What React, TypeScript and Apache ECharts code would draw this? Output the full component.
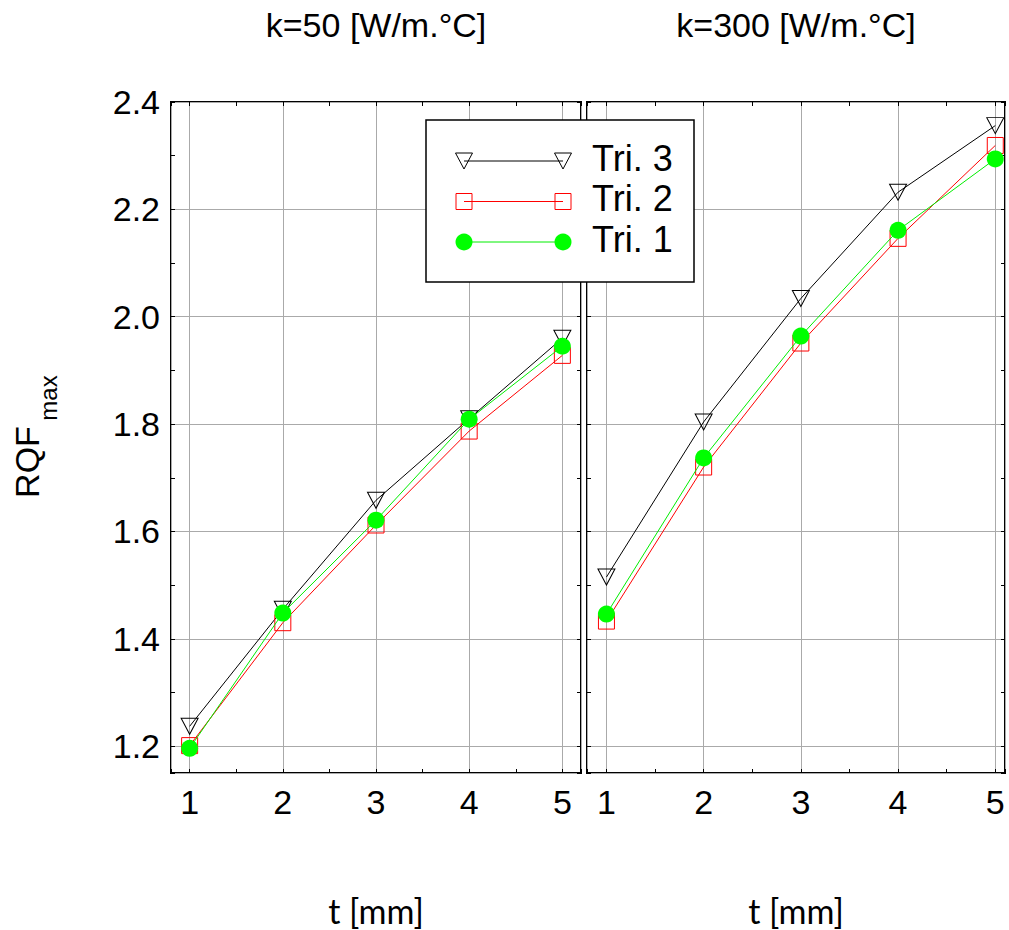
import React, { useEffect, useRef } from 'react';
import * as echarts from 'echarts';

// ---- data ----
const xValues = [1, 2, 3, 4, 5];
const xTickLabels = ['1', '2', '3', '4', '5'];
const yTickLabels = ['1.2', '1.4', '1.6', '1.8', '2.0', '2.2', '2.4'];
const seriesNames = ['Tri. 3', 'Tri. 2', 'Tri. 1'];
const panelTitles = ['k=50 [W/m.°C]', 'k=300 [W/m.°C]'];
const xAxisName = 't [mm]';

const k50Tri3 = [1.237, 1.455, 1.658, 1.81, 1.96];
const k50Tri2 = [1.201, 1.43, 1.612, 1.787, 1.928];
const k50Tri1 = [1.196, 1.448, 1.621, 1.809, 1.945];

const k300Tri3 = [1.515, 1.804, 2.034, 2.232, 2.356];
const k300Tri2 = [1.433, 1.72, 1.951, 2.146, 2.319];
const k300Tri1 = [1.446, 1.737, 1.964, 2.161, 2.294];

const panels = [
  [k50Tri3, k50Tri2, k50Tri1],
  [k300Tri3, k300Tri2, k300Tri1],
];

const FONT = '"Liberation Sans", Arial, Helvetica, sans-serif';

const grids = [
  { left: 171, top: 102, width: 410, height: 671, xMin: 0.8, xMax: 5.2 },
  { left: 587, top: 102, width: 418, height: 671, xMin: 0.8, xMax: 5.1 },
];
const yMin = 1.15;
const yMax = 2.4;

const seriesStyles = [
  { color: '#000000', symbol: 'triangle', rotate: 180, size: [17, 16], fill: 'rgba(0,0,0,0)' },
  { color: '#ff0000', symbol: 'rect', rotate: 0, size: 16, fill: 'rgba(0,0,0,0)' },
  { color: '#00ee00', symbol: 'circle', rotate: 0, size: 17, fill: '#00ff00' },
];

function xFmt(v: number) {
  const s = String(v);
  return xTickLabels.includes(s) ? s : '';
}
function yFmt(v: number) {
  const s = v.toFixed(1);
  return yTickLabels.includes(s) && Math.abs(v - parseFloat(s)) < 1e-6 ? s : '';
}

export default function App() {
  const ref = useRef<HTMLDivElement>(null);
  useEffect(() => {
    if (!ref.current) return;
    const chart = echarts.init(ref.current, undefined, { renderer: 'svg' });

    const tickCommon = {
      axisTick: { show: true, inside: true, length: 4, lineStyle: { color: '#000', width: 1 } },
      minorTick: { show: true, splitNumber: 2, length: 4, lineStyle: { color: '#000', width: 1 } },
      axisLine: { show: false },
    };

    const xAxis: any[] = [];
    const yAxis: any[] = [];
    grids.forEach((g, gi) => {
      xAxis.push({
        type: 'value', gridIndex: gi, position: 'bottom', min: g.xMin, max: g.xMax, splitNumber: 5,
        ...tickCommon,
        axisLabel: { show: true, formatter: xFmt, fontSize: 34, color: '#000', fontFamily: FONT, margin: 12 },
        splitLine: { show: true, lineStyle: { color: '#aaaaaa', width: 1 } },
      });
      xAxis.push({
        type: 'value', gridIndex: gi, position: 'top', min: g.xMin, max: g.xMax, splitNumber: 5,
        ...tickCommon,
        axisLabel: { show: false },
        splitLine: { show: false },
      });
      yAxis.push({
        type: 'value', gridIndex: gi, position: 'left', min: yMin, max: yMax, splitNumber: 6,
        ...tickCommon,
        axisLabel: { show: gi === 0, formatter: yFmt, fontSize: 34, color: '#000', fontFamily: FONT, margin: 11 },
        splitLine: { show: true, lineStyle: { color: '#aaaaaa', width: 1 } },
      });
      yAxis.push({
        type: 'value', gridIndex: gi, position: 'right', min: yMin, max: yMax, splitNumber: 6,
        ...tickCommon,
        axisLabel: { show: false },
        splitLine: { show: false },
      });
    });

    const series: any[] = [];
    panels.forEach((panel, gi) => {
      panel.forEach((vals, si) => {
        const st = seriesStyles[si];
        series.push({
          type: 'line',
          name: seriesNames[si],
          xAxisIndex: gi * 2,
          yAxisIndex: gi * 2,
          data: xValues.map((x, i) => [x, vals[i]]),
          symbol: st.symbol,
          symbolSize: st.size,
          symbolRotate: st.rotate,
          showAllSymbol: true,
          lineStyle: { color: st.color, width: 1 },
          itemStyle: { color: st.fill, borderColor: st.symbol === 'circle' ? '#00ff00' : st.color, borderWidth: st.symbol === 'circle' ? 0 : 1 },
          z: 3 + si,
          silent: true,
        });
      });
    });

    // legend drawn with graphic
    const lgX0 = 464, lgX1 = 563, rows = [161, 201.5, 242];
    const legendEls: any[] = [
      { type: 'rect', shape: { x: 426, y: 120, width: 268, height: 162 }, style: { fill: '#fff', stroke: '#000', lineWidth: 1.5 }, z: 100 },
    ];
    rows.forEach((ry, i) => {
      const st = seriesStyles[i];
      legendEls.push({ type: 'line', shape: { x1: lgX0, y1: ry, x2: lgX1, y2: ry }, style: { stroke: st.color, lineWidth: 1 }, z: 101 });
      [lgX0, lgX1].forEach((cx) => {
        if (i === 0) {
          legendEls.push({ type: 'polygon', shape: { points: [[cx - 8.5, ry - 8], [cx + 8.5, ry - 8], [cx, ry + 8]] }, style: { fill: 'none', stroke: '#000', lineWidth: 1 }, z: 102 });
        } else if (i === 1) {
          legendEls.push({ type: 'rect', shape: { x: cx - 8, y: ry - 8, width: 16, height: 16 }, style: { fill: 'none', stroke: '#ff0000', lineWidth: 1 }, z: 102 });
        } else {
          legendEls.push({ type: 'circle', shape: { cx, cy: ry, r: 8.5 }, style: { fill: '#00ff00' }, z: 102 });
        }
      });
      legendEls.push({
        type: 'text', z: 102,
        style: { text: seriesNames[i], x: 592, y: ry - 3, font: `36px ${FONT}`, fill: '#000', align: 'left', verticalAlign: 'middle', textAlign: 'left', textVerticalAlign: 'middle' },
      });
    });

    const textEls: any[] = [];
    grids.forEach((g, gi) => {
      const cx = g.left + g.width / 2;
      textEls.push({
        type: 'text',
        style: { text: panelTitles[gi], x: cx, y: 25, font: `34px ${FONT}`, fill: '#000', align: 'center', verticalAlign: 'middle', textAlign: 'center', textVerticalAlign: 'middle' },
      });
      textEls.push({
        type: 'text',
        style: { text: xAxisName, x: cx, y: 910, font: `34px Lato, "Open Sans", sans-serif`, fill: '#000', align: 'center', verticalAlign: 'middle', textAlign: 'center', textVerticalAlign: 'middle' },
      });
    });
    textEls.push({
      type: 'text', x: 27, y: 462, rotation: Math.PI / 2,
      style: { text: 'RQF', x: 0, y: 0, font: `34px ${FONT}`, fill: '#000', align: 'center', verticalAlign: 'middle', textAlign: 'center', textVerticalAlign: 'middle' },
    });
    textEls.push({
      type: 'text', x: 48, y: 398, rotation: Math.PI / 2,
      style: { text: 'max', x: 0, y: 0, font: `24px ${FONT}`, fill: '#000', align: 'center', verticalAlign: 'middle', textAlign: 'center', textVerticalAlign: 'middle' },
    });

    chart.setOption({
      animation: false,
      backgroundColor: '#ffffff',
      grid: grids.map((g) => ({ left: g.left, top: g.top, width: g.width, height: g.height, show: true, borderColor: '#000', borderWidth: 2, backgroundColor: 'transparent', containLabel: false })),
      xAxis,
      yAxis,
      series,
      graphic: [...textEls, ...legendEls],
    });
    return () => chart.dispose();
  }, []);
  return <div ref={ref} style={{ position: 'absolute', left: 0, top: 0, width: 1009, height: 930, background: '#fff' }} />;
}
